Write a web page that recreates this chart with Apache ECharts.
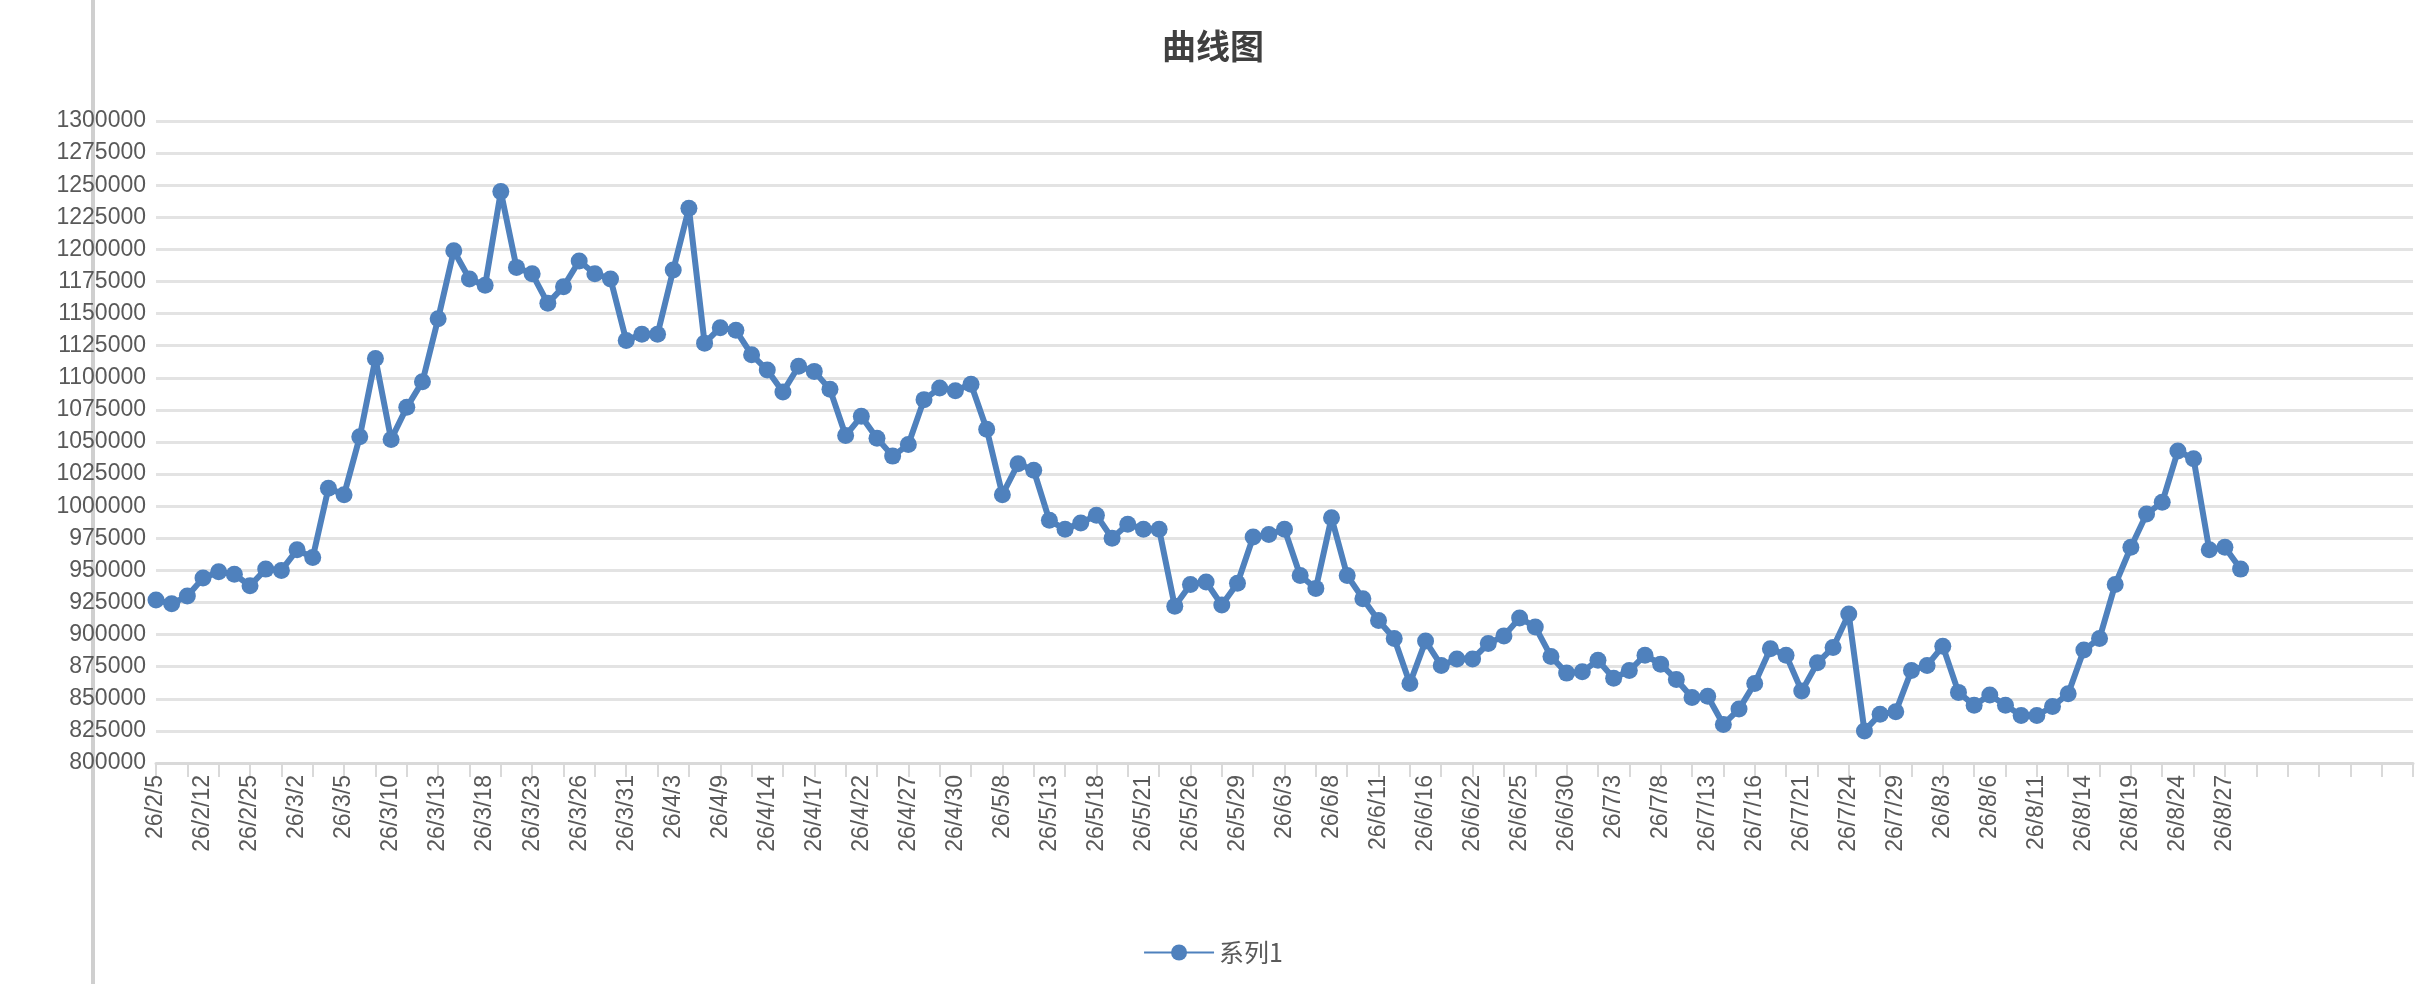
<!DOCTYPE html>
<html><head><meta charset="utf-8">
<script src="https://cdn.jsdelivr.net/npm/echarts@6/dist/echarts.min.js"></script>
<style>html,body{margin:0;padding:0;background:#fff}#c{width:2426px;height:984px}</style>
</head><body><div id="c"></div>
<script>
const tickLabels = ["26/2/5","26/2/12","26/2/25","26/3/2","26/3/5","26/3/10","26/3/13","26/3/18","26/3/23","26/3/26","26/3/31","26/4/3","26/4/9","26/4/14","26/4/17","26/4/22","26/4/27","26/4/30","26/5/8","26/5/13","26/5/18","26/5/21","26/5/26","26/5/29","26/6/3","26/6/8","26/6/11","26/6/16","26/6/22","26/6/25","26/6/30","26/7/3","26/7/8","26/7/13","26/7/16","26/7/21","26/7/24","26/7/29","26/8/3","26/8/6","26/8/11","26/8/14","26/8/19","26/8/24","26/8/27"];
const series1 = [927000,924000,930000,944000,949000,947000,938000,951000,950000,966000,960000,1014000,1009000,1054000,1115000,1052000,1077000,1097000,1146000,1199000,1177000,1172000,1245000,1186000,1181000,1158000,1171000,1191000,1181000,1177000,1129000,1134000,1134000,1184000,1232000,1127000,1139000,1137000,1118000,1106000,1089000,1109000,1105000,1091000,1055000,1070000,1053000,1039000,1048000,1083000,1092000,1090000,1095000,1060000,1009000,1033000,1028000,989000,982000,987000,993000,975000,986000,982000,982000,922000,939000,941000,923000,940000,976000,978000,982000,946000,936000,991000,946000,928000,911000,897000,862000,895000,876000,881000,881000,893000,899000,913000,906000,883000,870000,871000,880000,866000,872000,884000,877000,865000,851000,852000,830000,842000,862000,889000,884000,856000,878000,890000,916000,825000,838000,840000,872000,876000,891000,855000,845000,853000,845000,837000,837000,844000,854000,888000,897000,939000,968000,994000,1003000,1043000,1037000,966000,968000,951000];
const totalSlots = 145;
const categories = [];
for (let i = 0; i < totalSlots; i++) categories.push(i % 3 === 0 && tickLabels[i/3] ? tickLabels[i/3] : '');
const chart = echarts.init(document.getElementById('c'));
chart.setOption({
  animation:false,
  title:{text:'曲线图',left:'center',top:24,textStyle:{fontSize:34,fontWeight:'bold',color:'#404040',fontFamily:'Noto Sans CJK SC'}},
  legend:{bottom:14,left:'center',itemWidth:70,itemHeight:20,textStyle:{fontSize:25,color:'#595959',fontFamily:'Noto Sans CJK SC'}},
  graphic:[{type:'rect',shape:{x:91,y:0,width:4,height:984},style:{fill:'#cfcfcf'}}],
  grid:{left:156,right:13,top:121,bottom:221,containLabel:false},
  xAxis:{type:'category',data:categories,boundaryGap:false,
    axisLine:{lineStyle:{color:'#d9d9d9',width:3}},
    axisTick:{interval:1,length:14,lineStyle:{color:'#d9d9d9',width:2}},
    axisLabel:{interval:2,rotate:90,fontSize:23,color:'#595959',margin:12,fontFamily:'Liberation Sans'},
    splitLine:{show:false}},
  yAxis:{type:'value',min:800000,max:1300000,interval:25000,
    axisLine:{show:false},axisTick:{show:false},
    axisLabel:{fontSize:23,color:'#595959',margin:10,fontFamily:'Liberation Sans',formatter:v=>String(v)},
    splitLine:{lineStyle:{color:'#e3e3e3',width:3}}},
  series:[{name:'系列1',type:'line',data:series1,symbol:'circle',symbolSize:17,showAllSymbol:true,
    lineStyle:{color:'#4f81bd',width:6},itemStyle:{color:'#4f81bd'}}]
});
</script></body></html>
